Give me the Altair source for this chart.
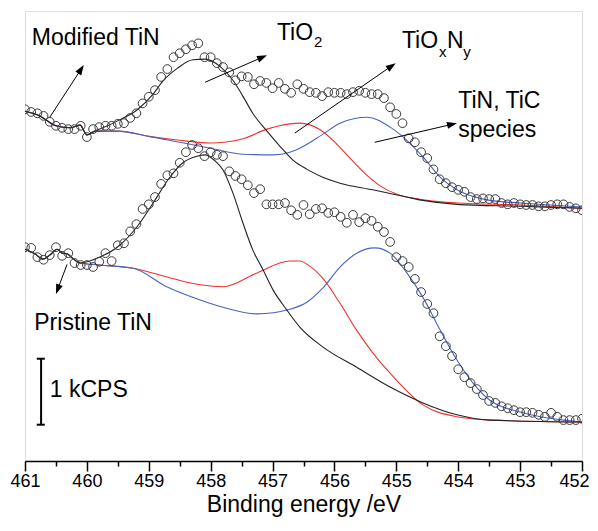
import math
import altair as alt
import pandas as pd

# ---------------- data ----------------
# measurement grid, binding energy (eV)
energy = [461.0, 460.9, 460.8, 460.7, 460.6, 460.5, 460.4, 460.3, 460.2, 460.1,
          460.0, 459.9, 459.8, 459.7, 459.6, 459.5, 459.4, 459.3, 459.2, 459.1,
          459.0, 458.9, 458.8, 458.7, 458.6, 458.5, 458.4, 458.3, 458.2, 458.1,
          458.0, 457.9, 457.8, 457.7, 457.6, 457.5, 457.4, 457.3, 457.2, 457.1,
          457.0, 456.9, 456.8, 456.7, 456.6, 456.5, 456.4, 456.3, 456.2, 456.1,
          456.0, 455.9, 455.8, 455.7, 455.6, 455.5, 455.4, 455.3, 455.2, 455.1,
          455.0, 454.9, 454.8, 454.7, 454.6, 454.5, 454.4, 454.3, 454.2, 454.1,
          454.0, 453.9, 453.8, 453.7, 453.6, 453.5, 453.4, 453.3, 453.2, 453.1,
          453.0, 452.9, 452.8, 452.7, 452.6, 452.5, 452.4, 452.3, 452.2, 452.1,
          452.0]

# intensities (kCPS, stacked offsets) of the two measured spectra
modified = [5.33, 5.29, 5.27, 5.23, 5.14, 5.08, 5.05, 5.03, 5.03, 5.08,
            4.91, 5.03, 5.06, 5.08, 5.08, 5.11, 5.12, 5.20, 5.27, 5.42,
            5.52, 5.62, 5.82, 5.94, 6.12, 6.18, 6.24, 6.30, 6.33, 6.12,
            6.12, 6.03, 5.97, 5.89, 5.77, 5.83, 5.82, 5.71, 5.76, 5.73,
            5.65, 5.73, 5.64, 5.58, 5.71, 5.64, 5.59, 5.58, 5.53, 5.59,
            5.58, 5.58, 5.56, 5.59, 5.61, 5.58, 5.56, 5.56, 5.50, 5.36,
            5.26, 5.12, 4.89, 4.83, 4.68, 4.59, 4.42, 4.27, 4.21, 4.15,
            4.11, 4.08, 4.00, 3.97, 3.98, 3.97, 3.97, 3.91, 3.89, 3.91,
            3.89, 3.88, 3.88, 3.86, 3.86, 3.88, 3.89, 3.89, 3.85, 3.83, 3.80]

pristine = [3.24, 3.23, 3.09, 3.05, 3.12, 3.24, 3.11, 3.15, 3.00, 2.97,
            2.97, 2.94, 3.02, 3.15, 3.03, 3.27, 3.30, 3.48, 3.59, 3.82,
            3.89, 4.00, 4.20, 4.33, 4.36, 4.52, 4.68, 4.79, 4.74, 4.62,
            4.68, 4.64, 4.62, 4.39, 4.32, 4.27, 4.18, 4.06, 4.12, 3.89,
            3.89, 3.89, 3.91, 3.80, 3.73, 3.88, 3.74, 3.82, 3.83, 3.76,
            3.77, 3.70, 3.61, 3.73, 3.62, 3.68, 3.64, 3.55, 3.47, 3.32,
            3.09, 3.03, 2.94, 2.76, 2.56, 2.38, 2.24, 1.89, 1.74, 1.59,
            1.39, 1.27, 1.18, 1.09, 1.00, 0.91, 0.88, 0.83, 0.80, 0.77,
            0.74, 0.74, 0.73, 0.70, 0.67, 0.73, 0.67, 0.62, 0.62, 0.62, 0.64]

# fitted components (component + background), modified TiN
mod_black_E = [461.00, 460.76, 460.50, 460.27, 460.11, 460.00, 459.87, 459.79, 459.47, 459.19,
               458.93, 458.77, 458.54, 458.29, 458.09, 457.85, 457.64, 457.48, 457.32, 457.09,
               456.88, 456.67, 456.44, 456.19, 455.91, 455.38, 454.83, 454.57, 454.02, 453.00, 452.00]
mod_black_I = [5.30, 5.23, 5.08, 5.05, 5.09, 4.94, 5.00, 5.03, 5.17, 5.32,
               5.56, 5.76, 5.95, 6.08, 6.09, 5.98, 5.77, 5.53, 5.27, 5.00,
               4.77, 4.56, 4.42, 4.30, 4.21, 4.11, 4.00, 3.95, 3.89, 3.86, 3.83]
mod_red_E = [461.00, 460.76, 460.50, 460.27, 460.11, 460.00, 459.87, 459.50, 459.00, 458.50,
             458.00, 457.49, 457.09, 456.72, 456.56, 456.23, 455.99, 455.75, 455.51, 455.26,
             455.01, 454.50, 454.02, 453.00, 452.00]
mod_red_I = [5.30, 5.23, 5.08, 5.05, 5.09, 4.94, 5.00, 5.00, 4.92, 4.86,
             4.82, 4.88, 5.03, 5.11, 5.12, 5.02, 4.83, 4.59, 4.36, 4.17,
             4.05, 3.95, 3.91, 3.88, 3.83]
mod_blue_E = [461.00, 460.76, 460.50, 460.27, 460.11, 460.00, 459.87, 459.50, 459.00, 458.50,
              458.00, 457.49, 456.99, 456.72, 456.56, 456.19, 455.91, 455.47, 455.10, 454.83,
              454.57, 454.29, 454.02, 453.49, 453.00, 452.00]
mod_blue_I = [5.30, 5.23, 5.08, 5.05, 5.09, 4.94, 5.00, 5.00, 4.92, 4.83,
              4.74, 4.65, 4.64, 4.68, 4.74, 4.95, 5.12, 5.21, 5.06, 4.86,
              4.61, 4.30, 4.11, 3.95, 3.91, 3.85]

# fitted components, pristine TiN
pri_black_E = [461.00, 460.84, 460.71, 460.60, 460.48, 460.40, 460.32, 460.24, 460.11, 459.79,
               459.47, 459.19, 458.93, 458.66, 458.45, 458.22, 458.09, 457.93, 457.80, 457.64,
               457.48, 457.32, 457.15, 456.99, 456.77, 456.56, 456.19, 455.64, 455.10, 454.57,
               454.02, 453.49, 452.00]
pri_black_I = [3.21, 3.14, 3.06, 3.12, 3.21, 3.15, 3.14, 3.08, 3.00, 3.09,
               3.27, 3.55, 3.91, 4.30, 4.52, 4.62, 4.64, 4.55, 4.41, 4.06,
               3.61, 3.20, 2.89, 2.59, 2.29, 2.03, 1.73, 1.42, 1.12, 0.88,
               0.70, 0.62, 0.59]
pri_red_E = [461.00, 460.84, 460.71, 460.60, 460.48, 460.40, 460.32, 460.24, 460.11, 459.79,
             459.25, 458.71, 458.17, 457.80, 457.25, 456.72, 456.56, 456.44, 456.19, 455.91,
             455.64, 455.38, 455.10, 454.57, 454.02, 453.49, 452.00]
pri_red_I = [3.21, 3.14, 3.06, 3.12, 3.21, 3.15, 3.14, 3.08, 3.00, 2.97,
             2.92, 2.79, 2.67, 2.64, 2.85, 3.03, 3.03, 2.98, 2.77, 2.39,
             1.98, 1.64, 1.33, 0.85, 0.67, 0.62, 0.59]
pri_blue_E = [461.00, 460.84, 460.71, 460.60, 460.48, 460.40, 460.32, 460.24, 460.11, 459.79,
              459.25, 458.71, 458.17, 457.80, 457.25, 456.72, 456.44, 456.19, 455.91, 455.64,
              455.35, 455.10, 454.83, 454.57, 454.29, 454.02, 453.76, 453.49, 452.95, 452.00]
pri_blue_I = [3.21, 3.14, 3.06, 3.12, 3.21, 3.15, 3.14, 3.08, 3.00, 2.97,
              2.92, 2.64, 2.44, 2.33, 2.23, 2.30, 2.41, 2.62, 2.94, 3.15,
              3.23, 3.15, 2.85, 2.48, 1.98, 1.53, 1.18, 0.92, 0.73, 0.59]

# annotation arrows (start -> end, data units)
arrow_x0 = [460.60, 458.09, 456.64, 455.35, 460.32]
arrow_y0 = [5.21, 5.74, 4.97, 4.83, 2.98]
arrow_x1 = [460.05, 457.09, 455.01, 454.02, 460.50]
arrow_y1 = [6.00, 6.15, 6.03, 5.12, 2.53]

# annotation texts
label_text = ["Modified TiN", "TiO", "2", "TiO", "x", "N", "y",
              "TiN, TiC", "species", "Pristine TiN", "1 kCPS"]
label_x = [460.89, 456.93, 456.33, 454.91, 454.31, 454.18, 453.92,
           454.00, 454.00, 460.85, 460.60]
label_y = [6.30, 6.38, 6.27, 6.26, 6.12, 6.26, 6.12,
           5.35, 4.91, 1.98, 0.97]
label_size = [23, 23, 15, 23, 15, 23, 15, 23, 23, 23, 23]

# scale bar: 1 kCPS
bar_x = 460.74
bar_cap_x = [460.81, 460.68]
bar_y = [0.55, 1.55]

tick_values = [452, 452.5, 453, 453.5, 454, 454.5, 455, 455.5, 456, 456.5,
               457, 457.5, 458, 458.5, 459, 459.5, 460, 460.5, 461]

# ---------------- chart ----------------
W, H = 557, 450
XDOM = [452, 461]
YDOM = [0, 6.82]
FONT = "Liberation Sans"

xs = alt.Scale(domain=XDOM, reverse=True, nice=False, zero=False)
ys = alt.Scale(domain=YDOM, nice=False, zero=False)

xaxis = alt.Axis(
    values=tick_values,
    labelExpr="datum.value % 1 == 0 ? format(datum.value, 'd') : ''",
    tickSize={"condition": {"test": "datum.value % 1 != 0", "value": 5}, "value": 10},
    labelAlign={"condition": {"test": "datum.value == 452", "value": "right"}, "value": "center"},
    labelOffset={"condition": {"test": "datum.value == 452", "value": 7}, "value": 0},
    tickColor="black", tickWidth=1.5, domainColor="black", domainWidth=1.5,
    labelFont=FONT, labelFontSize=18, labelColor="black", labelPadding=1,
    labelFlush=False, labelOverlap=False, labelBound=False, grid=False,
    title="Binding energy /eV", titleFont=FONT, titleFontSize=23,
    titleFontWeight="normal", titleColor="black", titlePadding=3,
)


def X(field):
    return alt.X(field, type="quantitative", scale=xs, axis=xaxis)


def Y(field):
    return alt.Y(field, type="quantitative", scale=ys, axis=None)


# measured points
pts = pd.concat([
    pd.DataFrame({"E": energy, "I": modified, "s": "modified"}),
    pd.DataFrame({"E": energy, "I": pristine, "s": "pristine"}),
])
points = alt.Chart(pts).mark_point(
    shape="circle", filled=False, size=76, stroke="#3a3a3a", strokeWidth=1, opacity=1, clip=True
).encode(x=X("E"), y=Y("I"), detail="s:N")

# fitted curves
curve_frames = []
for name, e, i in [
    ("mod_red", mod_red_E, mod_red_I), ("mod_blue", mod_blue_E, mod_blue_I),
    ("mod_black", mod_black_E, mod_black_I),
    ("pri_red", pri_red_E, pri_red_I), ("pri_blue", pri_blue_E, pri_blue_I),
    ("pri_black", pri_black_E, pri_black_I),
]:
    curve_frames.append(pd.DataFrame({"E": e, "I": i, "curve": name}))
curves_df = pd.concat(curve_frames)
curve_names = ["mod_red", "mod_blue", "mod_black", "pri_red", "pri_blue", "pri_black"]
curve_colors = ["#f03030", "#4a63c0", "#222222", "#f03030", "#4a63c0", "#222222"]
lines = alt.Chart(curves_df).mark_line(interpolate="monotone", strokeWidth=1.1).encode(
    x=X("E"), y=Y("I"),
    color=alt.Color("curve:N", scale=alt.Scale(domain=curve_names, range=curve_colors), legend=None),
    order=alt.Order("ord:Q"),
).transform_window(ord="row_number()", groupby=["curve"])

# arrows
ppx = W / (XDOM[1] - XDOM[0])
ppy = H / (YDOM[1] - YDOM[0])
HEAD = 6.25  # px from head centre to tip
rows = []
for x0, y0, x1, y1 in zip(arrow_x0, arrow_y0, arrow_x1, arrow_y1):
    dxs = (x0 - x1) * ppx
    dys = -(y1 - y0) * ppy
    L = math.hypot(dxs, dys)
    ux, uy = dxs / L, dys / L
    xc = x1 + HEAD * ux / ppx
    yc = y1 + HEAD * uy / ppy
    ang = math.degrees(math.atan2(dxs, -dys)) % 360
    rows.append({"x0": x0, "y0": y0, "xc": xc, "yc": yc, "ang": ang})
arr_df = pd.DataFrame(rows)
shafts = alt.Chart(arr_df).mark_rule(color="black", strokeWidth=1).encode(
    x=X("x0"), y=Y("y0"), x2="xc", y2="yc"
)
heads = alt.Chart(arr_df).mark_point(
    shape="M0,-1L0.56,0.6L-0.56,0.6Z", filled=True, color="black", size=156, opacity=1
).encode(x=X("xc"), y=Y("yc"), angle=alt.Angle("ang:Q", scale=None))

# texts
txt_df = pd.DataFrame({"t": label_text, "x": label_x, "y": label_y, "fs": label_size})
texts = alt.Chart(txt_df).mark_text(
    align="left", baseline="alphabetic", font=FONT, color="black"
).encode(x=X("x"), y=Y("y"), text="t:N", size=alt.Size("fs:Q", scale=None))

# scale bar
bar_v = alt.Chart(pd.DataFrame({"x": [bar_x], "y0": [bar_y[0]], "y1": [bar_y[1]]})).mark_rule(
    color="black", strokeWidth=2
).encode(x=X("x"), y=Y("y0"), y2="y1")
bar_caps = alt.Chart(pd.DataFrame({"x0": [bar_cap_x[0]] * 2, "x1": [bar_cap_x[1]] * 2, "y": bar_y})).mark_rule(
    color="black", strokeWidth=2
).encode(x=X("x0"), x2="x1", y=Y("y"))

chart = alt.layer(lines, points, shafts, heads, texts, bar_v, bar_caps).properties(
    width=W, height=H,
    autosize=alt.AutoSizeParams(type="none"),
    padding={"left": 17, "top": 3, "right": 8, "bottom": 59},
).configure_view(stroke="black", strokeWidth=1.5).configure(background="white")

chart.save("out.html", embed_options={"renderer": "svg", "actions": False})
